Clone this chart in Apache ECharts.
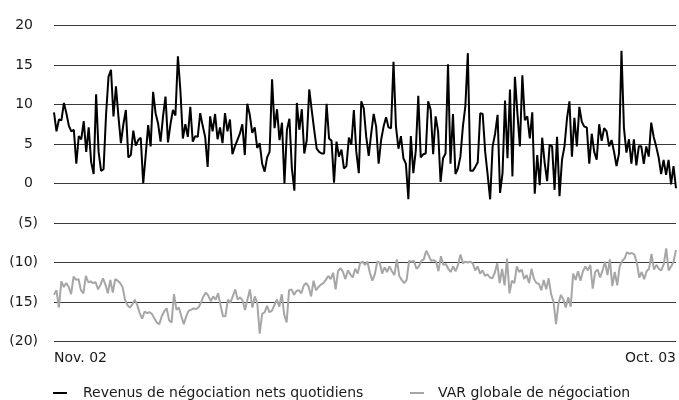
<!DOCTYPE html>
<html>
<head>
<meta charset="utf-8">
<script src="https://cdn.jsdelivr.net/npm/echarts@6/dist/echarts.min.js"></script>
<style>
  html, body { margin: 0; padding: 0; background: #fff; }
  #chart { width: 679px; height: 400px; }
</style>
</head>
<body>
<div id="chart"></div>
<script>
// Revenus de négociation nets quotidiens (millions), Nov. 02 -> Oct. 03
var revenus = [
  9.0, 6.6, 8.1, 8.0, 10.2, 8.9, 7.3, 6.6, 6.8, 2.5,
  6.0, 5.6, 7.9, 4.0, 7.1, 2.7, 1.2, 11.3, 4.0, 1.6,
  1.8, 8.7, 13.5, 14.4, 8.5, 12.3, 8.5, 5.1, 7.5, 9.3,
  3.3, 3.6, 6.7, 4.8, 5.5, 5.8, 0, 3.6, 7.4, 4.7,
  11.6, 8.9, 7.6, 5.3, 8.5, 11.0, 5.2, 7.5, 9.3, 8.6,
  16.1, 11.8, 5.7, 7.5, 5.9, 9.7, 5.3, 6.0, 5.9, 8.9,
  7.3, 5.9, 2.1, 8.5, 6.6, 8.8, 5.6, 7.1, 5.1, 8.9,
  6.6, 8.1, 3.7, 4.7, 5.5, 6.3, 7.5, 3.6, 10.1, 8.7,
  6.4, 7.1, 4.5, 5.1, 2.5, 1.5, 3.3, 4.0, 13.2, 7.0,
  9.4, 5.5, 7.7, 0, 6.8, 8.2, 1.9, -0.9, 10.2, 6.8,
  9.4, 3.8, 5.5, 11.9, 9.3, 6.8, 4.4, 4.0, 3.8, 3.8,
  10.1, 5.7, 5.4, 0.1, 5.3, 3.4,
  4.3, 1.9, 2.2, 5.8, 4.9, 9.3, 4.0, 1.3, 10.4, 9.5,
  5.9, 3.5, 6.3, 8.8, 7.2, 2.5, 5.5, 7.2, 8.4, 7.1,
  7.0, 15.4, 7.2, 4.4, 6.0, 3.2, 2.5, -2.0, 6.0, 1.3,
  4.2, 11.1, 3.3, 3.7, 3.8, 10.4, 9.3, 3.7, 8.5, 6.6,
  0.2, 3.2, 3.8, 15.1, 2.5, 8.8, 1.2, 1.9, 3.4, 7.2,
  9.8, 16.5, 1.6, 1.6, 2.1, 2.7, 8.9, 8.8, 4.0, 1.1,
  -2.0, 4.7, 6.3, 8.7, -1.2, 1.3, 10.5, 3.2, 11.9, 0.9,
  13.5, 8.9, 4.7, 13.7, 8.0, 8.5, 5.7, 9.0, -1.3, 3.6,
  -0.2, 5.8, 2.6, 0.3, 4.9, 4.7, -0.8, 5.9, -1.6, 3.0,
  4.7, 8.2, 10.4, 3.4, 8.3, 4.7, 9.7, 7.8, 7.2, 7.1,
  2.5, 6.3, 4.0, 3.0, 7.5, 5.4, 7.0, 6.6, 4.7, 5.5,
  4.0, 2.2, 3.8, 16.8, 7.0, 3.9, 5.6, 2.5, 5.6, 2.3,
  4.7, 4.7, 2.5, 4.7, 3.4, 7.7, 5.9, 4.7, 3.3, 1.2,
  3.0, 1.1, 3.0, -0.1, 2.2, -0.6
];

// VAR globale de négociation (négative)
var varGlobale = [
  -14.1, -13.5, -15.7, -12.4, -13.1, -12.6, -13.1, -14.0, -11.8, -12.2,
  -12.1, -13.5, -13.9, -11.7, -12.5, -12.4, -12.6, -12.5, -13.4, -12.8,
  -12.0, -12.8, -13.9, -12.2, -13.8, -12.1, -12.3, -12.6, -13.1, -14.7,
  -15.4, -15.7, -15.3, -14.7, -15.4, -16.4, -17.1, -16.2, -16.4, -16.3,
  -16.5, -17.1, -17.6, -17.8, -16.8, -16.2, -15.8, -17.3, -17.6, -14.0,
  -16.0, -15.7, -16.8, -17.8, -16.8, -16.1, -16.0, -15.8, -15.9, -15.7,
  -15.1, -14.3, -13.8, -14.2, -14.9, -14.3, -14.7, -13.9, -15.4, -16.8,
  -16.8, -14.7, -15.1, -14.3, -13.4, -14.7, -14.4, -14.8, -16.0, -14.7,
  -13.4, -15.7, -14.3, -15.1, -19.0, -16.5, -16.3, -15.5, -16.3, -16.1,
  -15.4, -14.7, -15.6, -14.0, -16.6, -17.6, -13.5, -13.4, -14.1, -13.6,
  -13.5, -13.9, -12.9, -12.6, -13.1, -14.3, -12.3, -13.5, -13.1, -12.8,
  -12.6, -12.2, -11.7, -12.1, -11.3, -13.4, -11.1, -10.7,
  -11.2, -12.1, -11.0, -11.5, -11.9, -10.8, -11.4, -10.1, -9.9, -10.3,
  -9.9, -11.3, -12.3, -11.5, -9.9, -10.0, -11.4, -10.6, -11.2, -10.5,
  -11.1, -11.6, -9.6, -11.7, -12.2, -12.6, -12.2, -9.8, -9.9, -9.8,
  -10.8, -10.5, -9.8, -9.6, -8.5, -9.1, -9.8, -9.7, -9.9, -11.1,
  -9.2, -10.3, -10.2, -10.8, -11.2, -10.5, -11.1, -10.3, -9.0, -10.1,
  -9.9, -10.0, -9.9, -10.1, -11.0, -10.5, -11.4, -11.0, -11.7, -11.5,
  -11.9, -12.0, -11.3, -10.1, -12.6, -10.8, -12.9, -9.5, -13.9, -12.3,
  -12.6, -10.5, -11.2, -10.9, -12.1, -11.6, -12.6, -10.8, -12.1, -12.6,
  -12.7, -13.5, -12.2, -13.4, -12.0, -14.0, -15.0, -17.8, -15.2, -14.1,
  -14.7, -15.7, -14.4, -15.6, -11.4, -12.2, -11.1, -12.3, -11.1, -10.5,
  -11.0, -10.3, -13.3, -11.2, -10.9, -11.9, -11.0, -9.9, -11.6, -9.6,
  -13.0, -11.2, -12.9, -10.5, -9.8, -9.5, -8.7, -8.9, -8.8, -9.0,
  -10.0, -11.9, -11.2, -12.1, -11.1, -10.8, -8.9, -10.9, -10.3, -10.8,
  -11.0, -10.2, -8.2, -11.0, -10.5, -9.9, -8.4
];

var xLabels = ['Nov. 02', 'Oct. 03'];
var seriesNames = ['Revenus de négociation nets quotidiens', 'VAR globale de négociation'];

var fontFamily = '"DejaVu Sans", "Liberation Sans", Arial, sans-serif';
var ink = '#1a1a1a';
var gridColor = '#3a3a3a';

var chart = echarts.init(document.getElementById('chart'), null, { renderer: 'canvas' });

var daysA = revenus.map(function (v, i) { return i; });
var daysB = varGlobale.map(function (v, i) { return i; });

chart.setOption({
  animation: false,
  textStyle: { fontFamily: fontFamily, color: ink },
  grid: { left: 54, right: 2, top: 25.5, bottom: 58.5, containLabel: false },
  legend: [
    {
      data: [seriesNames[0]],
      left: 48, top: 381,
      icon: 'rect', itemWidth: 14, itemHeight: 2, itemGap: 0,
      textStyle: { fontSize: 14, color: ink, fontFamily: fontFamily, padding: [0, 0, 0, 11] }
    },
    {
      data: [seriesNames[1]],
      left: 405, top: 381,
      icon: 'rect', itemWidth: 14, itemHeight: 2, itemGap: 0,
      textStyle: { fontSize: 14, color: ink, fontFamily: fontFamily, padding: [0, 0, 0, 9] }
    }
  ],
  xAxis: [
    {
      type: 'category',
      data: daysA,
      boundaryGap: false,
      axisLine: { show: false },
      axisTick: { show: false },
      splitLine: { show: false },
      axisLabel: {
        show: true,
        margin: 10,
        fontSize: 14,
        color: ink,
        interval: function (i) { return i === 0 || i === daysA.length - 1; },
        showMinLabel: true,
        showMaxLabel: true,
        alignMinLabel: 'left',
        alignMaxLabel: 'right',
        formatter: function (v, i) { return i === 0 ? xLabels[0] : xLabels[1]; }
      }
    },
    {
      type: 'category',
      data: daysB,
      boundaryGap: false,
      position: 'bottom',
      show: false
    }
  ],
  yAxis: {
    type: 'value',
    min: -20,
    max: 20,
    interval: 5,
    axisLine: { show: false },
    axisTick: { show: false },
    splitLine: { lineStyle: { color: gridColor, width: 1 } },
    axisLabel: {
      margin: 16,
      fontSize: 14,
      color: ink,
      formatter: function (v) {
        return v < 0 ? '(' + (-v) + ')' : v + '{s|}';
      },
      rich: { s: { width: 5 } }
    }
  },
  series: [
    {
      name: seriesNames[0],
      type: 'line',
      xAxisIndex: 0,
      data: revenus,
      symbol: 'none',
      lineStyle: { color: '#000', width: 2 },
      itemStyle: { color: '#000' },
      z: 3
    },
    {
      name: seriesNames[1],
      type: 'line',
      xAxisIndex: 1,
      data: varGlobale,
      symbol: 'none',
      lineStyle: { color: '#a6a6a6', width: 2 },
      itemStyle: { color: '#a6a6a6' },
      z: 2
    }
  ]
});
</script>
</body>
</html>
